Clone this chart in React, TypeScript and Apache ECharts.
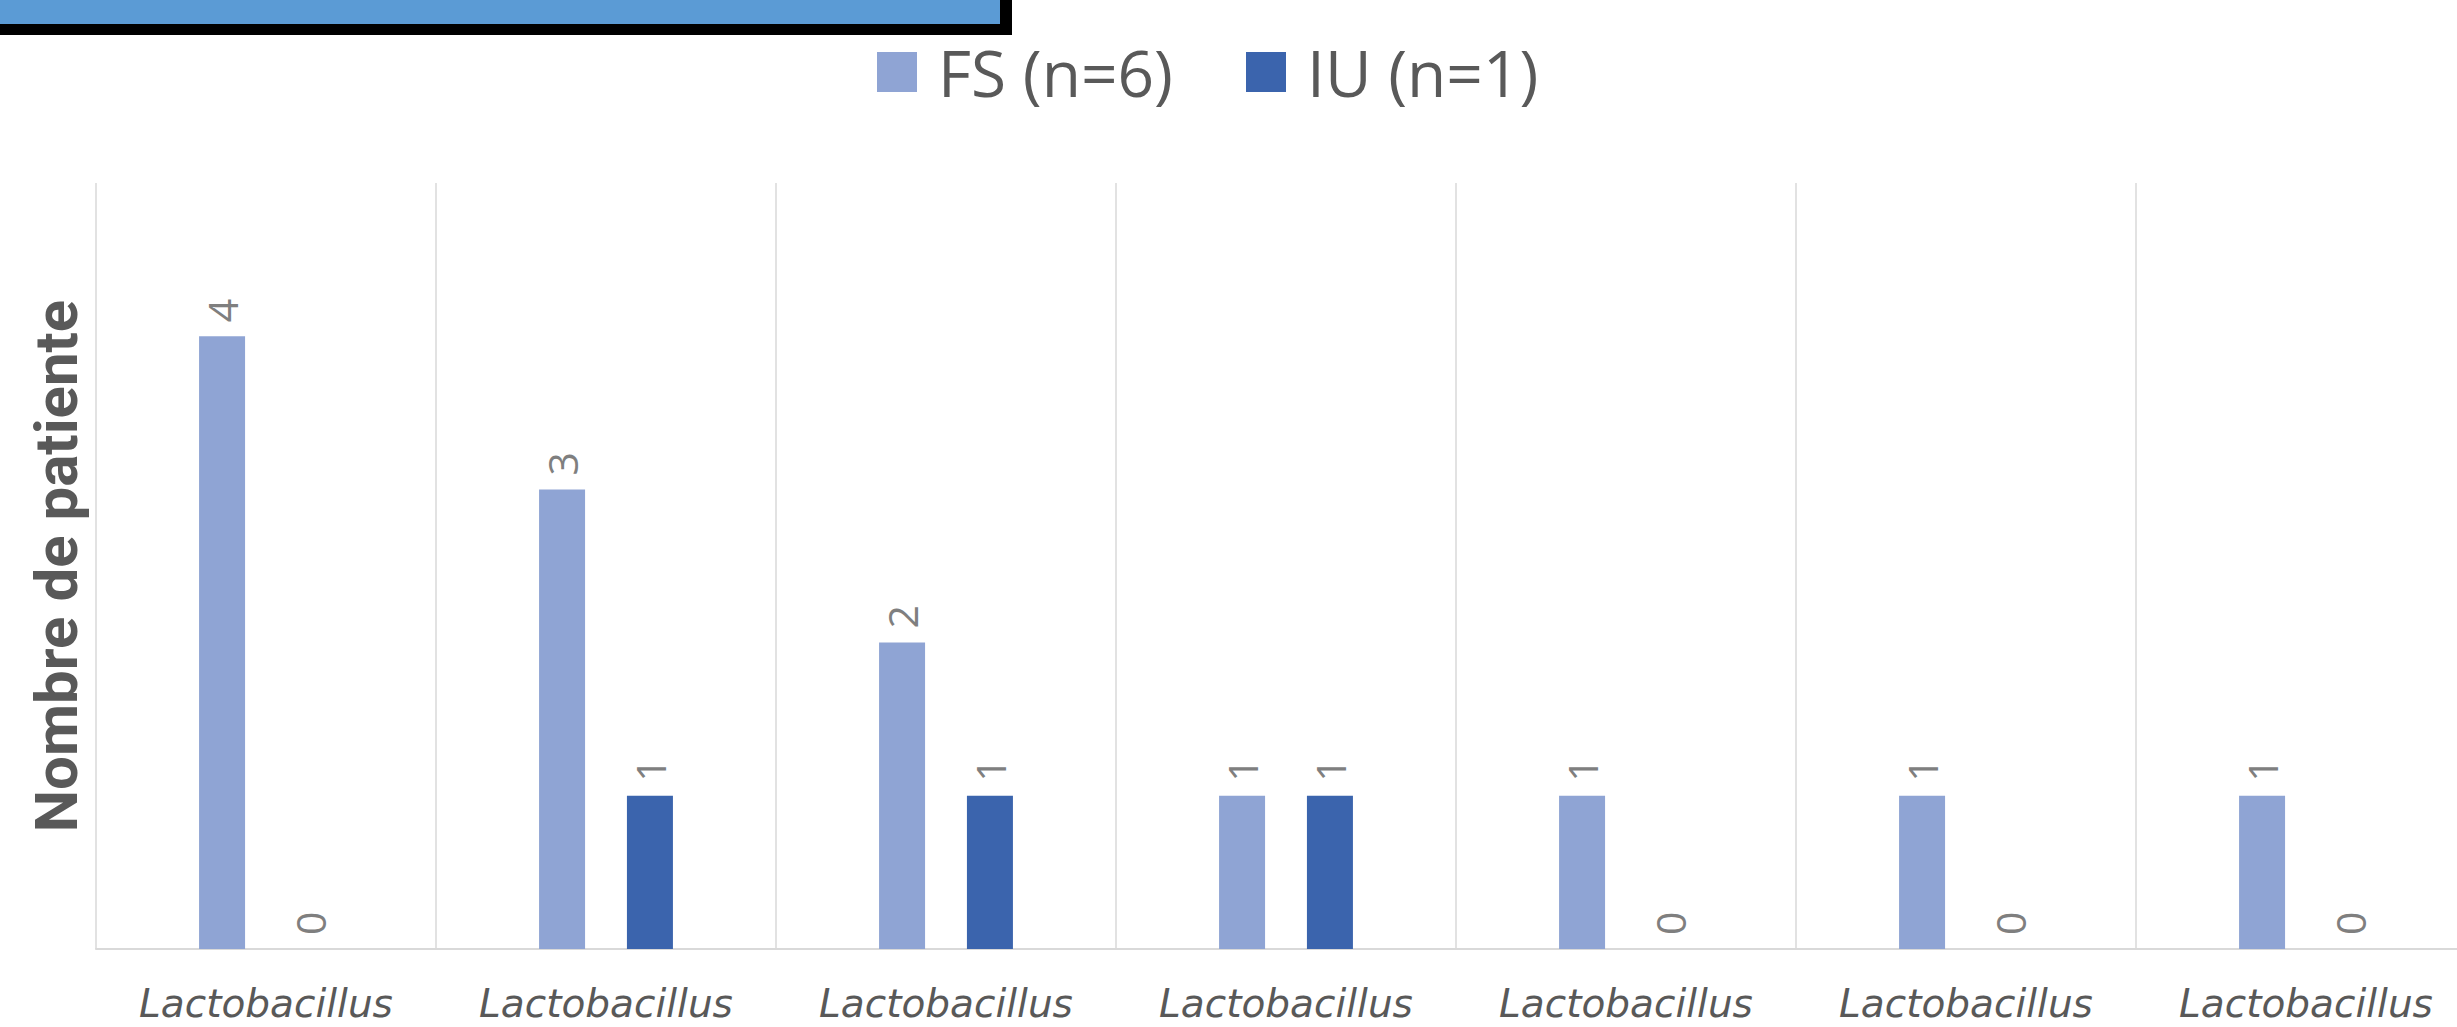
import React, { useEffect, useRef } from "react";
import * as echarts from "echarts";

const categories = [
  "Lactobacillus",
  "Lactobacillus",
  "Lactobacillus",
  "Lactobacillus",
  "Lactobacillus",
  "Lactobacillus",
  "Lactobacillus",
];
const seriesNames = ["FS (n=6)", "IU (n=1)"];
const fsValues = [4, 3, 2, 1, 1, 1, 1];
const iuValues = [0, 1, 1, 1, 0, 0, 0];
const yAxisName = "Nombre de patiente";

const FS_COLOR = "#8FA4D4";
const IU_COLOR = "#3B64AD";
const TEXT_DARK = "#595959";
const LABEL_GRAY = "#7F7F7F";
const GRID_GRAY = "#D9D9D9";

export default function App() {
  const ref = useRef<HTMLDivElement>(null);

  useEffect(() => {
    if (!ref.current) return;
    const chart = echarts.init(ref.current, null, { renderer: "svg" });

    const barLabel = {
      show: true,
      position: "top",
      rotate: 90,
      align: "left",
      verticalAlign: "middle",
      distance: 14,
      color: LABEL_GRAY,
      fontFamily: "'Open Sans', sans-serif",
      fontSize: 41,
    };

    const legendText = {
      color: TEXT_DARK,
      fontFamily: "'Open Sans', sans-serif",
      fontSize: 64,
      padding: [0, 0, 0, 16],
    };

    chart.setOption({
      animation: false,
      backgroundColor: "#ffffff",
      graphic: [
        {
          type: "rect",
          left: 0,
          top: 0,
          shape: { x: 0, y: 0, width: 1012, height: 35 },
          style: { fill: "#000000" },
          z: 10,
        },
        {
          type: "rect",
          left: 0,
          top: 0,
          shape: { x: 0, y: 0, width: 1000, height: 24 },
          style: { fill: "#5B9BD5" },
          z: 11,
        },
      ],
      legend: [
        {
          data: [seriesNames[0]],
          left: 872,
          top: 35,
          itemWidth: 40,
          itemHeight: 40,
          icon: "rect",
          textStyle: legendText,
        },
        {
          data: [seriesNames[1]],
          left: 1241,
          top: 35,
          itemWidth: 40,
          itemHeight: 40,
          icon: "rect",
          textStyle: legendText,
        },
      ],
      grid: {
        left: 96,
        top: 183,
        width: 2380,
        height: 766,
        containLabel: false,
      },
      xAxis: {
        type: "category",
        data: categories,
        boundaryGap: true,
        axisLine: { show: true, lineStyle: { color: GRID_GRAY, width: 2 } },
        axisTick: { show: false },
        splitLine: { show: true, lineStyle: { color: GRID_GRAY, width: 1.5 } },
        axisLabel: {
          color: TEXT_DARK,
          fontFamily: "'DejaVu Sans', sans-serif",
          fontStyle: "italic",
          fontSize: 39,
          margin: 35,
          interval: 0,
        },
      },
      yAxis: {
        type: "value",
        min: 0,
        max: 5,
        interval: 1,
        name: yAxisName,
        nameLocation: "middle",
        nameGap: 10,
        nameRotate: 90,
        nameTextStyle: {
          color: TEXT_DARK,
          fontFamily: "Roboto, sans-serif",
          fontWeight: "bold",
          fontSize: 60,
        },
        axisLine: { show: false },
        axisTick: { show: false },
        axisLabel: { show: false },
        splitLine: { show: false },
      },
      series: [
        {
          name: seriesNames[0],
          type: "bar",
          data: fsValues,
          barWidth: 46,
          barGap: "91%",
          itemStyle: { color: FS_COLOR },
          label: barLabel,
        },
        {
          name: seriesNames[1],
          type: "bar",
          data: iuValues,
          barWidth: 46,
          barGap: "91%",
          itemStyle: { color: IU_COLOR },
          label: barLabel,
        },
      ],
    });

    return () => {
      chart.dispose();
    };
  }, []);

  return (
    <div
      ref={ref}
      style={{
        position: "fixed",
        left: 0,
        top: 0,
        width: 2500,
        height: 1027,
        background: "#ffffff",
      }}
    />
  );
}
